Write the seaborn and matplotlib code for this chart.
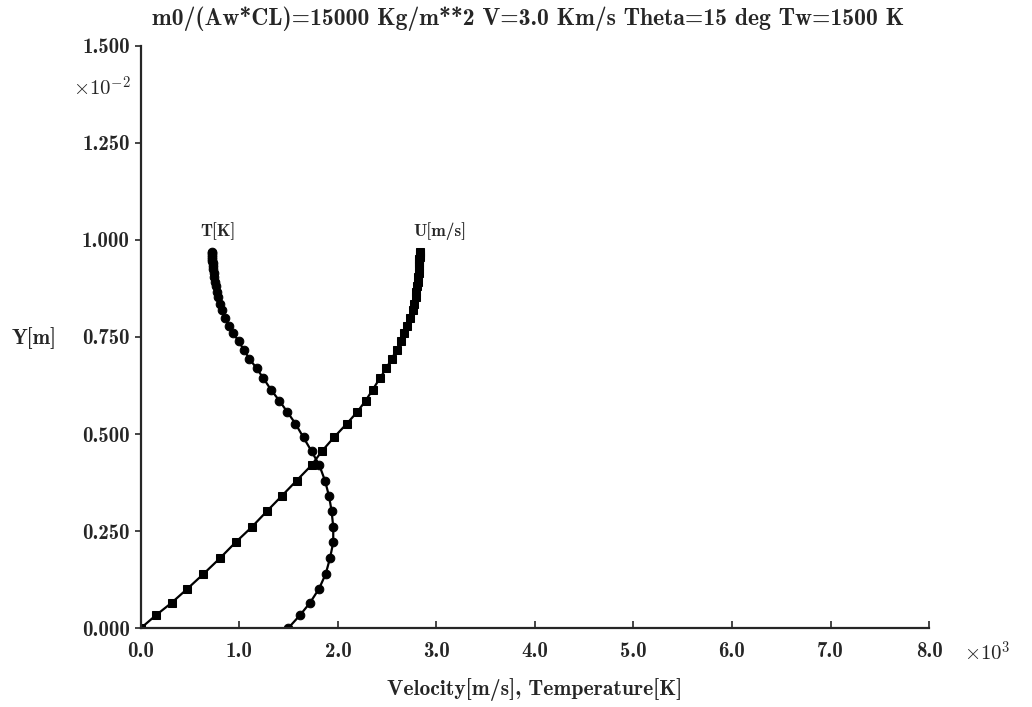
import matplotlib
matplotlib.use("Agg")
import matplotlib.pyplot as plt
import seaborn as sns
import pandas as pd

# y grid (x10^-2 m), shared by both profiles
y_pos = [0.000, 0.033, 0.065, 0.101, 0.139, 0.180, 0.221, 0.260, 0.302, 0.340,
         0.380, 0.420, 0.455, 0.491, 0.527, 0.557, 0.586, 0.614, 0.644, 0.669,
         0.694, 0.716, 0.739, 0.759, 0.778, 0.798, 0.819, 0.836, 0.852, 0.867,
         0.881, 0.893, 0.905, 0.915, 0.924, 0.932, 0.940, 0.946, 0.952, 0.957,
         0.962, 0.966, 0.970]
# velocity (x10^3 m/s)
u_vel = [0.000, 0.152, 0.311, 0.470, 0.633, 0.802, 0.961, 1.124, 1.282, 1.428,
         1.580, 1.733, 1.834, 1.958, 2.091, 2.196, 2.281, 2.352, 2.426, 2.490,
         2.545, 2.595, 2.636, 2.673, 2.704, 2.731, 2.758, 2.775, 2.787, 2.797,
         2.804, 2.810, 2.815, 2.819, 2.822, 2.824, 2.825, 2.826, 2.827, 2.828,
         2.829, 2.829, 2.830]
# temperature (x10^3 K)
t_temp = [1.496, 1.614, 1.716, 1.807, 1.875, 1.919, 1.952, 1.952, 1.935, 1.909,
          1.868, 1.810, 1.733, 1.650, 1.567, 1.485, 1.404, 1.320, 1.242, 1.175,
          1.100, 1.046, 0.992, 0.937, 0.893, 0.853, 0.819, 0.803, 0.787, 0.772,
          0.761, 0.753, 0.746, 0.739, 0.734, 0.730, 0.727, 0.725, 0.723, 0.721,
          0.720, 0.719, 0.718]

x_ticks = [0, 1, 2, 3, 4, 5, 6, 7, 8]
y_ticks = [0.0, 0.25, 0.5, 0.75, 1.0, 1.25, 1.5]

title = "m0/(Aw*CL)=15000 Kg/m**2 V=3.0 Km/s Theta=15 deg Tw=1500 K"

df = pd.DataFrame({"Y": y_pos, "U": u_vel, "T": t_temp})

sns.set_style("ticks")
plt.rcParams['font.family'] = ['cmb10', 'DejaVu Serif']
plt.rcParams['mathtext.fontset'] = 'cm'
plt.rcParams['axes.unicode_minus'] = False

fig = plt.figure(figsize=(10.32, 7.07), dpi=100)
ax = fig.add_axes([0.1366, 0.1117, 0.7636, 0.8233])

sns.lineplot(data=df, x="U", y="Y", sort=False, estimator=None, color="black",
             marker="s", markersize=5.8, markeredgecolor="black", linewidth=1.6, ax=ax)
sns.lineplot(data=df, x="T", y="Y", sort=False, estimator=None, color="black",
             marker="o", markersize=6.2, markeredgecolor="black", linewidth=1.6, ax=ax)

ax.set_xlim(0, 8)
ax.set_ylim(0, 1.5)
ax.set_xticks(x_ticks)
ax.set_xticklabels(["%.1f" % v for v in x_ticks])
ax.set_yticks(y_ticks)
ax.set_yticklabels(["%.3f" % v for v in y_ticks])
ax.tick_params(axis="x", direction="in", length=5, width=1.2, labelsize=15, pad=10)
ax.tick_params(axis="y", direction="out", length=4, width=1.2, labelsize=15, pad=4)
sns.despine(ax=ax)
for s in ["left", "bottom"]:
    ax.spines[s].set_linewidth(1.6)
ax.set_xlabel("Velocity[m/s], Temperature[K]", fontsize=15.5, labelpad=12)
ax.set_ylabel("")

fig.text(0.011, 0.522, "Y[m]", fontsize=15, va="center", ha="left")
fig.text(0.127, 0.876, r"$\times10^{-2}$", fontsize=15, va="center", ha="right")
fig.text(0.934, 0.077, r"$\times10^{3}$", fontsize=15, va="center", ha="left")
fig.text(0.512, 0.974, title, fontsize=17, ha="center", va="center")

ax.text(0.78, 1.00, "T[K]", fontsize=12.5, ha="center", va="bottom")
ax.text(3.03, 1.00, "U[m/s]", fontsize=12.5, ha="center", va="bottom")

plt.savefig("out.png", dpi=100)
